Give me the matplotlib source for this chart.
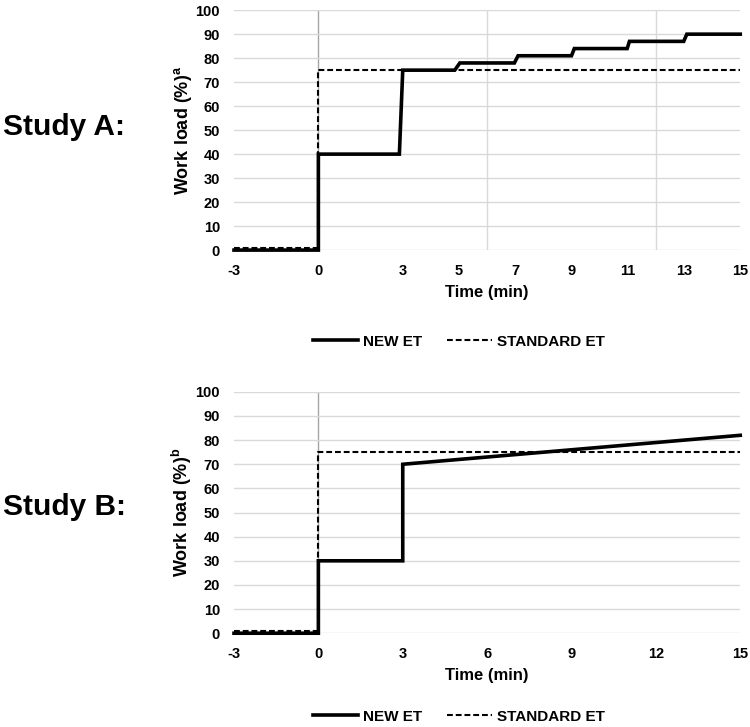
import matplotlib
matplotlib.use("Agg")
import matplotlib.pyplot as plt
from matplotlib.ticker import FixedLocator, MultipleLocator

# Study A
time_a_new = [-3, 0, 0, 2.88, 3.0, 4.85, 5.03, 6.97, 7.1, 9.0, 9.1, 10.98, 11.06, 12.99, 13.1, 15]
load_a_new = [0, 0, 40, 40, 75, 75, 78, 78, 81, 81, 84, 84, 87, 87, 90, 90]
ticks_a = [-3, 0, 3, 5, 7, 9, 11, 13, 15]

# Study B
time_b_new = [-3, 0, 0, 3, 3, 15]
load_b_new = [0, 0, 30, 30, 70, 82]
ticks_b = [-3, 0, 3, 6, 9, 12, 15]

# standard ET (same in both)
time_std = [-3, 0, 0, 15]
load_std = [1, 1, 75, 75]

plt.rcParams['font.family'] = ['Liberation Sans', 'DejaVu Sans']
plt.rcParams['axes.unicode_minus'] = False
plt.rcParams['mathtext.fontset'] = 'custom'
plt.rcParams['mathtext.rm'] = 'Liberation Sans'
plt.rcParams['mathtext.bf'] = 'Liberation Sans:bold'

fig = plt.figure(figsize=(7.5, 7.27), dpi=100)
ax_a = fig.add_axes([0.312, 0.656, 0.675, 0.330])
ax_b = fig.add_axes([0.312, 0.129, 0.675, 0.332])


def style_axis(ax, ticks, sup):
    ax.set_xlim(-3, 15)
    ax.set_ylim(0, 100)
    ax.xaxis.set_major_locator(FixedLocator(ticks))
    ax.xaxis.set_minor_locator(MultipleLocator(3))
    ax.yaxis.set_major_locator(MultipleLocator(10))
    ax.grid(axis='x', which='minor', color='#d9d9d9', linewidth=1, zorder=0)
    ax.grid(axis='y', which='major', color='#d9d9d9', linewidth=1, zorder=0)
    ax.axvline(0, color='#a6a6a6', linewidth=1, zorder=1)
    for s in ax.spines.values():
        s.set_visible(False)
    ax.tick_params(which='both', length=0)
    ax.tick_params(axis='x', pad=10)
    ax.tick_params(axis='y', pad=10)
    for lab in ax.get_xticklabels() + ax.get_yticklabels():
        lab.set_fontweight('bold')
        lab.set_fontsize(10.5)
    ax.set_xlabel('Time (min)', fontsize=12, fontweight='bold', labelpad=5)
    ax.set_ylabel('Work load (%)' + r'$^{\mathbf{' + sup + '}}$',
                  fontsize=13, fontweight='bold', labelpad=1)


for ax, t_new, l_new, ticks, sup in [(ax_a, time_a_new, load_a_new, ticks_a, 'a'),
                                     (ax_b, time_b_new, load_b_new, ticks_b, 'b')]:
    style_axis(ax, ticks, sup)
    ax.plot(t_new, l_new, color='black', linewidth=2.6, label='NEW ET',
            solid_joinstyle='miter', zorder=3, clip_on=False)
    ax.plot(time_std, load_std, color='black', linewidth=1.5, linestyle=(0, (2.8, 1.4)),
            label='STANDARD ET', zorder=4, clip_on=False)

fig.text(0.004, 0.814, 'Study A:', fontsize=21.5, fontweight='bold', ha='left', va='baseline')
fig.text(0.004, 0.292, 'Study B:', fontsize=21.5, fontweight='bold', ha='left', va='baseline')

for ax, y in [(ax_a, 0.530), (ax_b, 0.014)]:
    h, l = ax.get_legend_handles_labels()
    leg = fig.legend(h, l, loc='center', bbox_to_anchor=(0.612, y), ncol=2, frameon=False,
                     handlelength=2.95, columnspacing=1.6, handletextpad=0.33,
                     prop={'weight': 'bold', 'size': 11})

fig.savefig('out.png', dpi=100)
